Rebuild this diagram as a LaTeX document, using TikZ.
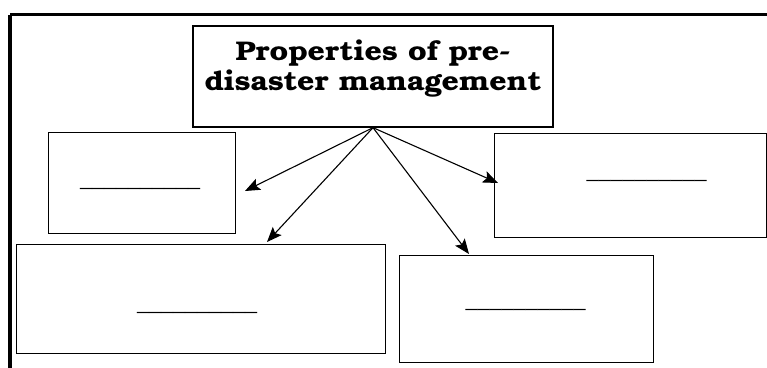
\documentclass[tikz,border=0pt]{standalone}
\usepackage{fontspec}
\newfontfamily\bonum[Extension=.otf,UprightFont=texgyrebonum-regular,BoldFont=texgyrebonum-bold,FakeStretch=1.12]{texgyrebonum}
\newfontfamily\blankfont{Liberation Serif}
\usetikzlibrary{arrows.meta}
\tikzset{
  answerbox/.style={draw, line width=1pt, rectangle, inner sep=0pt},
  blank/.style={font=\blankfont\fontsize{24}{24}\selectfont, inner sep=0pt, anchor=base},
  link/.style={-{Stealth[length=15pt,width=12pt,inset=3pt]}, line width=1.1pt},
}
\begin{document}
\begin{tikzpicture}[x=1pt,y=-1pt]
\useasboundingbox (0,0) rectangle (767,367);
% page frame (top and left)
\coordinate (fbl) at (10,370);
\coordinate (ftl) at (10,14.5);
\coordinate (ftr) at (770,14.5);
\draw[line width=4pt] (fbl) -- (ftl);
\draw[line width=3pt] (ftl) -- (ftr);
% title
\node[answerbox, line width=1.3pt, minimum width=360pt, minimum height=101pt,
      align=center, text depth=22pt, font=\bonum\bfseries\fontsize{27}{30}\selectfont]
  (title) at (373,76.5) {Properties of pre-\\disaster management};
% boxes
\node[answerbox, minimum width=187pt, minimum height=101pt] (boxA) at (141.5,182.5) {};
\node[answerbox, minimum width=369pt, minimum height=109pt] (boxB) at (200.5,298.5) {};
\node[answerbox, minimum width=272pt, minimum height=104pt] (boxC) at (630,185) {};
\node[answerbox, minimum width=254pt, minimum height=107pt] (boxD) at (526,308.5) {};
% blanks
\node[blank] (blankA) at (140,186.4) {\_\_\_\_\_\_\_\_\_\_};
\node[blank] (blankB) at (197,310.4) {\_\_\_\_\_\_\_\_\_\_};
\node[blank] (blankC) at (646.5,178.4) {\_\_\_\_\_\_\_\_\_\_};
\node[blank] (blankD) at (525.5,307.4) {\_\_\_\_\_\_\_\_\_\_};
% arrow tips
\coordinate (tipA) at (245,191);
\coordinate (tipB) at (267,242);
\coordinate (tipC) at (498,183);
\coordinate (tipD) at (469,254);
\draw[link] (title.south) -- (tipA);
\draw[link] (title.south) -- (tipB);
\draw[link] (title.south) -- (tipC);
\draw[link] (title.south) -- (tipD);
\end{tikzpicture}
\end{document}
